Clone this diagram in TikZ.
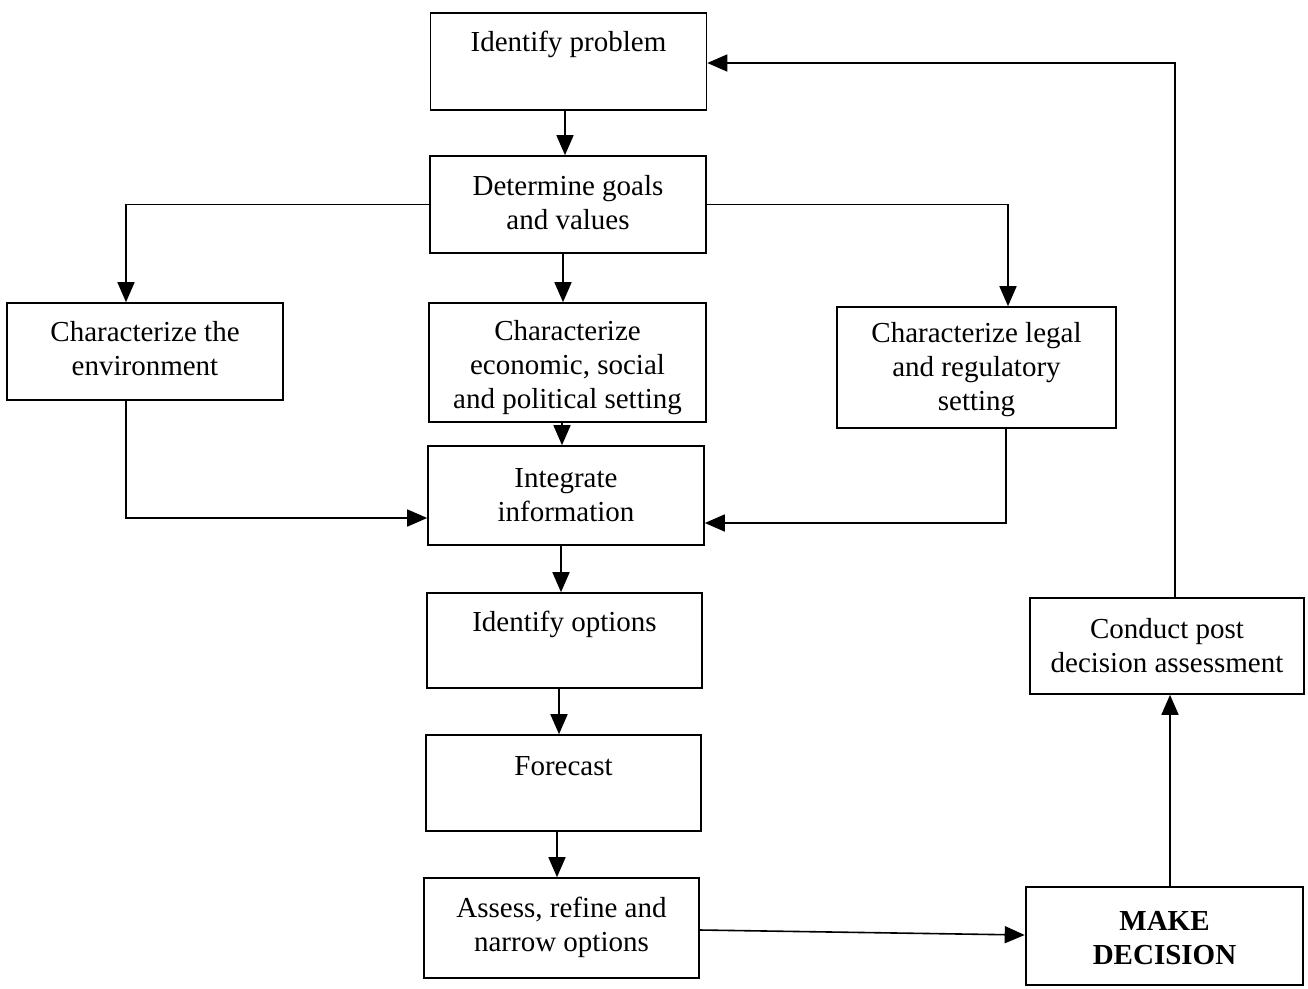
\documentclass[tikz,border=0pt]{standalone}
\usepackage{fontspec}
\setmainfont{Liberation Serif}
\usetikzlibrary{arrows.meta,calc}
\begin{document}
\begin{tikzpicture}[x=1pt,y=-1pt,
  box/.style={draw=black,line width=1.6pt,minimum width=#1,inner sep=0pt},
  box/.default=276pt,
  txt/.style={align=center,font=\fontsize{29}{34}\selectfont,inner sep=0pt},
  arr/.style={line width=1.6pt,-{Triangle[length=20pt,width=17pt]}},
  ln/.style={line width=1.6pt}]
\useasboundingbox (0,0) rectangle (1308,988);
% boxes
\node[box,minimum height=97pt] (prob) at (568.5,61.5) {};
\node[txt] (tprob) at (568.5,44) {Identify problem};
\node[box,minimum height=97pt] (goals) at (568,204.5) {};
\node[txt] (tgoals) at (568,203) {Determine goals\\and values};
\node[box,minimum height=97pt] (env) at (145,351.5) {};
\node[txt] (tenv) at (145,349) {Characterize the\\environment};
\node[box=277pt,minimum height=119pt] (econ) at (567.5,362.5) {};
\node[txt] (tecon) at (567.5,368) {Characterize\\economic, social\\and political setting};
\node[box=279pt,minimum height=121pt] (legal) at (976.5,367.5) {};
\node[txt] (tlegal) at (976.5,370) {Characterize legal\\and regulatory\\setting};
\node[box,minimum height=99pt] (integ) at (566,495.5) {};
\node[txt] (tinteg) at (566,495) {Integrate\\information};
\node[box=275pt,minimum height=95pt] (opt) at (564.5,640.5) {};
\node[txt] (topt) at (564.5,624) {Identify options};
\node[box=275pt,minimum height=96pt] (fore) at (563.5,783) {};
\node[txt] (tfore) at (563.5,766) {Forecast};
\node[box=275pt,minimum height=100pt] (assess) at (561.5,928) {};
\node[txt] (tassess) at (561.5,927) {Assess, refine and\\narrow options};
\node[box=277pt,minimum height=98pt,line width=2.6pt] (make) at (1164.5,936) {};
\node[txt,font=\fontsize{29}{34}\selectfont\bfseries] (tmake) at (1164.5,938) {MAKE\\DECISION};
\node[box=274pt,minimum height=96pt] (post) at (1167,646) {};
\node[txt] (tpost) at (1167,646) {Conduct post\\decision assessment};
% connectors
\draw[arr] ([xshift=-3.5pt]prob.south) -- ([xshift=-3pt]goals.north);
\draw[arr] ([xshift=-5pt]goals.south) -- ([xshift=-4.5pt]econ.north);
\draw[arr] (goals.west) -| ([xshift=-19pt]env.north);
\draw[arr] (goals.east) -| ([xshift=31.5pt]legal.north);
\draw[arr] ([xshift=-5.5pt]econ.south) -- ([xshift=-4pt]integ.north);
\draw[arr] ([xshift=-19pt]env.south) |- ([yshift=-22.5pt]integ.west);
\draw[arr] ([xshift=29.5pt]legal.south) |- ([yshift=-27.5pt]integ.east);
\draw[arr] ([xshift=-5pt]integ.south) -- ([xshift=-3.5pt]opt.north);
\draw[arr] ([xshift=-5.5pt]opt.south) -- ([xshift=-4.5pt]fore.north);
\draw[arr] ([xshift=-6.5pt]fore.south) -- ([xshift=-4.5pt]assess.north);
\draw[arr] ([yshift=-2pt]assess.east) -- ([yshift=1pt]make.west);
\draw[arr] ([xshift=5.5pt]make.north) -- ([xshift=3pt]post.south);
\draw[arr] ([xshift=8pt]post.north) |- ([yshift=-1.5pt]prob.east);
\end{tikzpicture}
\end{document}
